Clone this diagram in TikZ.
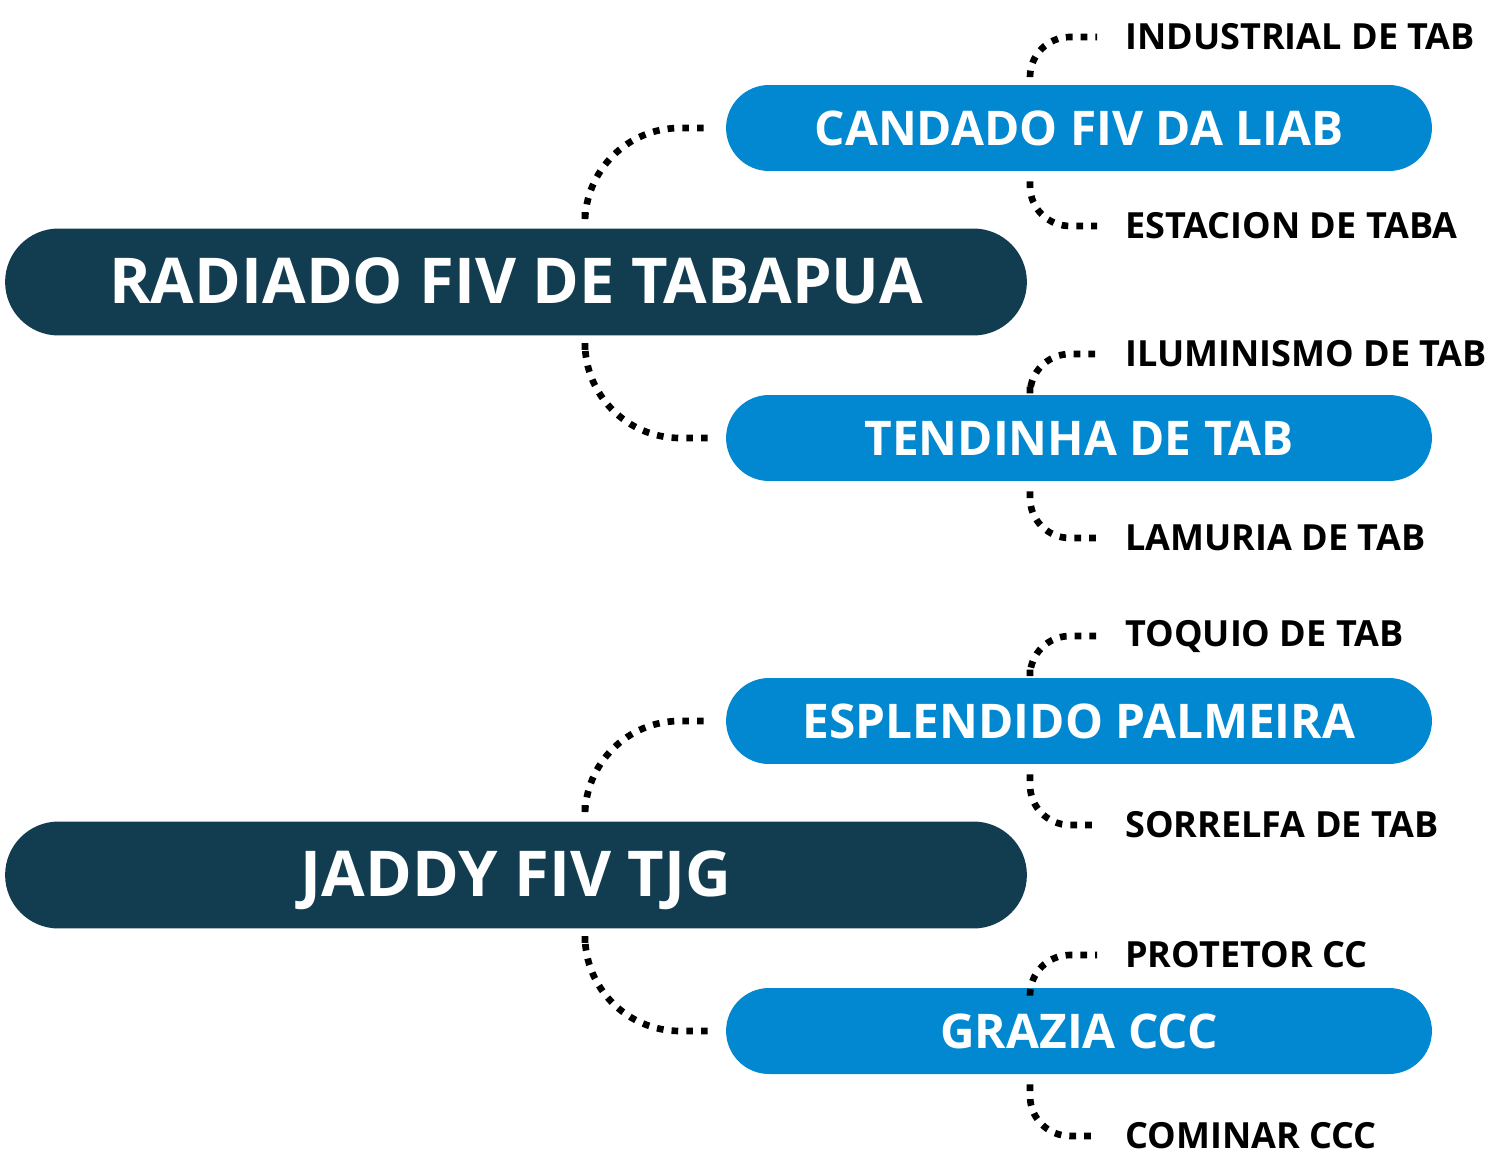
\documentclass[tikz,border=0pt]{standalone}
\usepackage{fontspec}
\setmainfont{Open Sans}
\usepackage{tikz}
\usetikzlibrary{positioning,calc}

\begin{document}
\begin{tikzpicture}[
            x=0.02cm, y=-0.02cm,
            root/.style={rectangle,fill=rootcol,text=white,minimum width=20.44cm,minimum height=2.14cm,rounded corners=1.07cm,text height=0.9cm,text depth=0.05cm,font=\fontsize{36}{40}\selectfont\bfseries},
            branch/.style={rectangle,fill=branchcol,text=white,minimum width=14.12cm,minimum height=1.72cm,rounded corners=0.86cm,font=\fontsize{27.2}{30}\selectfont\bfseries},
            leaf/.style={anchor=west,inner sep=0pt,font=\fontsize{20.5}{24}\selectfont\bfseries},
            link/.style={line width=3.8pt,dash pattern=on 3.8pt off 4.6pt,black}
        ]

        % Define colors
        \definecolor{rootcol}{HTML}{123C50};
        \definecolor{branchcol}{HTML}{0288D1};

        \useasboundingbox (0,0) rectangle (1495,1156);

        % Main nodes
        \node[root] (radiado) at (516,282) {RADIADO FIV DE TABAPUA};
        \node[root] (jaddy) at (516,875) {JADDY FIV TJG};

        % Second level
        \node[branch] (candado) at (1079,128) {CANDADO FIV DA LIAB};
        \node[branch] (tendinha) at (1079,438) {TENDINHA DE TAB};
        \node[branch] (esplendido) at (1079,721) {ESPLENDIDO PALMEIRA};
        \node[branch] (grazia) at (1079,1031) {GRAZIA CCC};

        % Leaves
        \node[leaf] (industrial) at (1125,37) {INDUSTRIAL DE TAB};
        \node[leaf] (estacion) at (1125,226) {ESTACION DE TABA};
        \node[leaf] (iluminismo) at (1125,354) {ILUMINISMO DE TAB};
        \node[leaf] (lamuria) at (1125,538) {LAMURIA DE TAB};
        \node[leaf] (toquio) at (1125,636) {TOQUIO DE TAB};
        \node[leaf] (sorrelfa) at (1125,825) {SORRELFA DE TAB};
        \node[leaf] (protetor) at (1125,955) {PROTETOR CC};
        \node[leaf] (cominar) at (1125,1136) {COMINAR CCC};

        % Links from main nodes
        \draw[link,rounded corners=1.9cm,shorten <=0.32cm,shorten >=0.36cm] ([xshift=1.38cm]radiado.north) |- (candado.west);
        \draw[link,rounded corners=1.9cm,shorten <=0.28cm,shorten >=0.36cm] ([xshift=1.38cm]radiado.south) |- (tendinha.west);
        \draw[link,rounded corners=1.9cm,shorten <=0.32cm,shorten >=0.36cm] ([xshift=1.38cm]jaddy.north) |- (esplendido.west);
        \draw[link,rounded corners=1.9cm,shorten <=0.28cm,shorten >=0.36cm] ([xshift=1.38cm]jaddy.south) |- (grazia.west);

        % Links to leaves
        \foreach \b/\u/\d in {candado/industrial/estacion,tendinha/iluminismo/lamuria,esplendido/toquio/sorrelfa,grazia/protetor/cominar}{
            \draw[link,rounded corners=0.8cm,shorten <=0.16cm,shorten >=0.56cm] ([xshift=-0.98cm]\b.north) |- (\u.west);
            \draw[link,rounded corners=0.8cm,shorten <=0.2cm,shorten >=0.56cm] ([xshift=-0.98cm]\b.south) |- (\d.west);
        }

        \end{tikzpicture}
\end{document}
